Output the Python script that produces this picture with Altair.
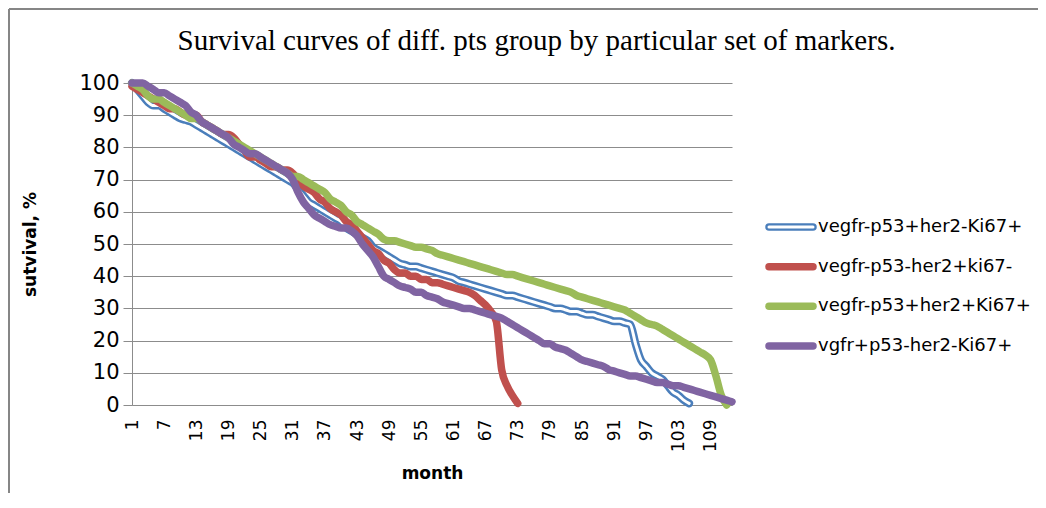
import altair as alt
import pandas as pd

# ---------------- data ----------------
months = list(range(1, 114))

series_names = [
    "vegfr-p53+her2-Ki67+",
    "vegfr-p53-her2+ki67-",
    "vegfr-p53+her2+Ki67+",
    "vgfr+p53-her2-Ki67+",
]
series_colors = ["#4A7EBB", "#C0504D", "#9BBB59", "#8064A2"]

blue_vals = [
    100, 98, 96, 94, 93, 93, 92, 91, 90, 89,
    88.5, 88, 87, 86, 85, 84, 83, 82, 81, 80,
    79, 78, 77, 76, 75, 74, 73, 72, 71, 70,
    69, 67, 65, 63, 62, 61, 60, 59, 58, 57,
    55, 54, 53, 52, 51, 49, 48, 47, 46, 45,
    44, 43.5, 43, 43, 42.5, 42, 41.5, 41, 40.5, 40,
    39.5, 38.5, 38, 37.5, 37, 36.5, 36, 35.5, 35, 34.5,
    34, 34, 33.5, 33, 32.5, 32, 31.5, 31, 30.5, 30,
    30, 29.5, 29, 29, 28.5, 28, 28, 27.5, 27, 26.5,
    26, 26, 25.5, 25, 19, 14, 12, 10, 9, 8,
    6, 4, 3, 1.5, 0.5,
]

red_vals = [
    99, 98, 97, 96, 95, 94, 93, 92, 92, 91,
    90, 90, 90, 88, 87, 86, 85, 84, 84, 83,
    81, 79, 77, 77, 76, 75, 74, 74, 73, 73,
    72, 70, 68, 67, 66, 64, 63, 61, 60, 59,
    57, 56, 54, 52, 50, 48, 47, 45, 44, 42,
    41, 41, 40, 40, 39, 39, 38, 38, 37.5, 37,
    36.5, 36, 35.5, 35, 34, 32.5, 31, 29, 26, 11,
    6, 3, 0.5,
]

green_vals = [
    100, 99, 98, 96, 95, 95, 94, 93, 92, 91,
    90, 89, 89, 88, 87, 86, 85, 84, 83, 82,
    81, 80, 79, 78, 77, 76, 75, 74, 73, 72,
    71, 71, 70, 69, 68, 67, 66, 64, 63, 62,
    60, 59, 57, 56, 55, 54, 53, 51.5, 51, 51,
    50.5, 50, 49.5, 49, 49, 48.5, 48, 47, 46.5, 46,
    45.5, 45, 44.5, 44, 43.5, 43, 42.5, 42, 41.5, 41,
    40.5, 40.5, 40, 39.5, 39, 38.5, 38, 37.5, 37, 36.5,
    36, 35.5, 35, 34, 33.5, 33, 32.5, 32, 31.5, 31,
    30.5, 30, 29.5, 28.5, 27.5, 26.5, 25.5, 25, 24.5, 23.5,
    22.5, 21.5, 20.5, 19.5, 18.5, 17.5, 16.5, 15.5, 14, 9,
    3, 0,
]

purple_vals = [
    100, 100, 100, 99, 98, 97, 97, 96, 95, 94,
    93, 91, 90, 88, 87, 86, 85, 84, 83, 81,
    80, 79, 78, 78, 77, 76, 75, 74, 73, 72,
    70, 66, 63, 61, 59, 58, 57, 56, 55.5, 55,
    55, 54, 52.5, 50, 48, 46, 43, 40, 39, 38,
    37, 36.5, 36, 35, 35, 34, 33.5, 33, 32, 31.5,
    31, 30.5, 30, 30, 29.5, 29, 28.5, 28, 27.5, 27,
    26, 25, 24, 23, 22, 21, 20, 19, 19, 18,
    17.5, 17, 16, 15, 14, 13.5, 13, 12.5, 12, 11,
    10.5, 10, 9.5, 9, 9, 8.5, 8, 7.5, 7, 7,
    6.5, 6, 6, 5.5, 5, 4.5, 4, 3.5, 3, 2.5,
    2, 1.5, 1,
]

x_tick_values = [1, 7, 13, 19, 25, 31, 37, 43, 49, 55, 61, 67, 73, 79, 85, 91, 97, 103, 109]
y_tick_values = [0, 10, 20, 30, 40, 50, 60, 70, 80, 90, 100]

title_text = "Survival curves of diff. pts group by particular set of markers."

rows = []
for name, vals in zip(series_names, [blue_vals, red_vals, green_vals, purple_vals]):
    for m, v in zip(months, vals):
        rows.append({"month": m, "value": v, "series": name})
df = pd.DataFrame(rows)
legend_df = pd.DataFrame({"series": series_names})
one_df = pd.DataFrame({"k": [0]})

GRID = "#8c8c8c"

x_enc = alt.X(
    "month:Q",
    scale=alt.Scale(domain=[1, 113], nice=False, zero=False),
    axis=alt.Axis(
        values=x_tick_values, format="d", title="month",
        grid=False, ticks=False, domainColor=GRID, domainWidth=1,
        labelAngle=270, labelAlign="right", labelBaseline="middle",
        labelFont="DejaVu Sans", labelFontSize=17, labelColor="#000000",
        labelPadding=14, labelFlush=False, labelOverlap=False,
        titleFont="DejaVu Sans", titleFontSize=17, titleFontWeight="bold",
        titleColor="#000000", titleX=300, titleY=68,
        titleAlign="center", titleBaseline="middle",
    ),
)
y_enc = alt.Y(
    "value:Q",
    scale=alt.Scale(domain=[0, 100], nice=False, zero=False),
    axis=alt.Axis(
        values=y_tick_values, title="sutvival, %",
        grid=True, gridColor=GRID, gridWidth=1,
        ticks=True, tickSize=9, tickColor=GRID, domainColor=GRID, domainWidth=1,
        labelFont="DejaVu Sans", labelFontSize=21, labelColor="#000000",
        labelPadding=4, labelOverlap=False, labelFlush=False,
        titleFont="DejaVu Sans", titleFontSize=17, titleFontWeight="bold",
        titleColor="#000000", titleAngle=270, titleX=-102, titleY=161,
        titleAlign="center", titleBaseline="middle",
    ),
)

base = alt.Chart(df)


def line_layer(name, color, width):
    return (
        base.transform_filter(alt.datum.series == name)
        .mark_line(color=color, strokeWidth=width, interpolate="monotone",
                   strokeJoin="round", strokeCap="round")
        .encode(x=x_enc, y=y_enc)
    )


lines = alt.layer(
    line_layer(series_names[0], series_colors[0], 8),
    line_layer(series_names[0], "#ffffff", 3),
    line_layer(series_names[1], series_colors[1], 7.5),
    line_layer(series_names[2], series_colors[2], 7.5),
    line_layer(series_names[3], series_colors[3], 7.5),
)

leg_y = alt.Y("series:N", scale=alt.Scale(type="point", domain=series_names,
                                          range=[144, 263], padding=0), axis=None)
leg_color = alt.Color("series:N", scale=alt.Scale(domain=series_names, range=series_colors),
                      legend=None)
leg_base = alt.Chart(legend_df)
leg_rules = leg_base.mark_rule(strokeWidth=7.5, strokeCap="round").encode(
    x=alt.value(637), x2=alt.value(681), y=leg_y, color=leg_color)
leg_inner = leg_base.transform_filter(alt.datum.series == series_names[0]).mark_rule(
    strokeWidth=3, strokeCap="round", color="#ffffff").encode(
    x=alt.value(637), x2=alt.value(681), y=leg_y)
leg_text = leg_base.mark_text(align="left", baseline="middle", font="DejaVu Sans",
                              fontSize=18, color="#000000").encode(
    x=alt.value(686), y=leg_y, text="series:N")
legend = alt.layer(leg_rules, leg_inner, leg_text)

frame_top = alt.Chart(one_df).mark_rule(color="#868686", strokeWidth=2).encode(
    x=alt.value(-123), x2=alt.value(914), y=alt.value(-74))
frame_left = alt.Chart(one_df).mark_rule(color="#868686", strokeWidth=2).encode(
    x=alt.value(-123), y=alt.value(-74), y2=alt.value(420))
title = alt.Chart(one_df).mark_text(
    text=title_text, font="Liberation Serif", fontSize=29, align="center",
    baseline="alphabetic", color="#000000").encode(x=alt.value(404.5), y=alt.value(-33))

chart = (
    alt.layer(lines, legend, frame_top, frame_left, title)
    .resolve_scale(y="independent", color="independent")
    .properties(
        width=600, height=322,
        padding={"left": 124, "top": 75, "right": 306, "bottom": 88},
        autosize=alt.AutoSizeParams(type="none"),
        background="#ffffff",
    )
    .configure_view(stroke=None)
)

chart.save("out.html", embed_options={"renderer": "svg", "actions": False})
